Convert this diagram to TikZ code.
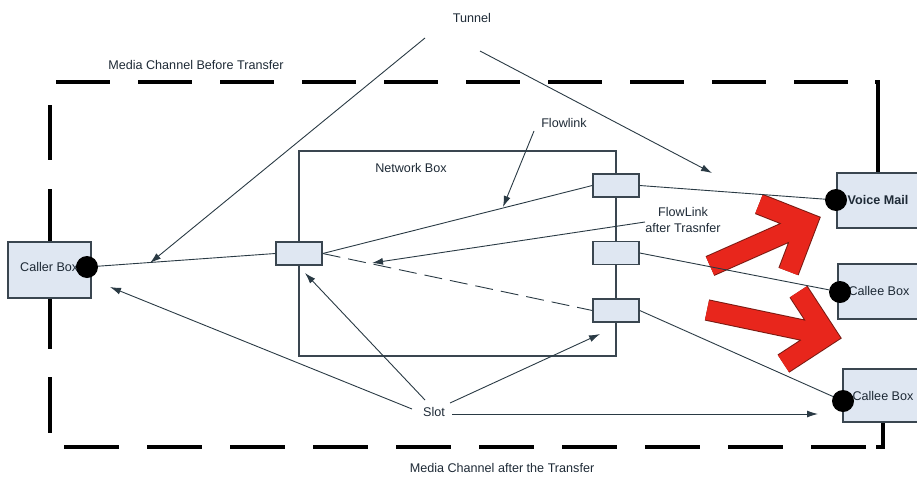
\documentclass[tikz,border=0pt]{standalone}
\usepackage{fontspec}
\setmainfont{Liberation Sans}
\usetikzlibrary{arrows.meta}
\definecolor{edge}{HTML}{3A4650}
\definecolor{boxfill}{HTML}{DFE7F2}
\definecolor{txt}{HTML}{1E2A36}
\definecolor{lnk}{HTML}{2A3A44}
\definecolor{redf}{HTML}{E8261C}
\definecolor{redo}{HTML}{7A1A12}
\begin{document}
\begin{tikzpicture}[x=1pt,y=-1pt,
  lbl/.style={font=\fontsize{12.6}{16}\selectfont, text=txt, inner sep=0pt},
  box/.style={draw=edge, fill=boxfill, line width=1.4pt, inner sep=0pt},
  slotbox/.style={box, minimum width=46pt, minimum height=23pt},
  dot/.style={circle, fill=black, minimum size=22pt, inner sep=0pt},
  lk/.style={draw=lnk, line width=0.9pt},
  ar/.style={lk, -{Latex[length=11pt,width=7pt]}},
  border/.style={draw=black, line width=3.4pt},
  bigarrow/.style={line width=#1, line join=miter}
]
\useasboundingbox (0,0) rectangle (917,479);

% dashed channel borders
\draw[border, dash pattern=on 54pt off 28pt] (56,82) -- (848,82);
\draw[border] (875,82) -- (878,82) -- (878,173);
\draw[border] (50,105) -- (50,160);
\draw[border] (50,189) -- (50,242);
\draw[border] (50,298) -- (50,349);
\draw[border] (50,377) -- (50,433);
\draw[border, dash pattern=on 55pt off 28pt] (64,447) -- (866,447);
\draw[border] (876,447) -- (883,447) -- (883,422);

% network box
\node[draw=edge, line width=1.2pt, minimum width=317pt, minimum height=205pt, inner sep=0pt] (net) at (457.5,253.5) {};
\node[lbl] (netlbl) at (411,168) {Network Box};

% end boxes
\node[box, minimum width=83pt, minimum height=56pt] (caller) at (49.5,270) {};
\node[box, minimum width=84pt, minimum height=55pt] (vm) at (879,200.5) {};
\node[box, minimum width=83pt, minimum height=55pt] (callee1) at (879.5,291.5) {};
\node[box, minimum width=78pt, minimum height=53pt] (callee2) at (882,395.5) {};
\node[lbl, anchor=west] (callerlbl) at (20,267) {Caller Box};
\node[lbl, font=\fontsize{12.6}{16}\selectfont\bfseries] (vmlbl) at (878,200) {Voice Mail};
\node[lbl] (c1lbl) at (879,291) {Callee Box};
\node[lbl] (c2lbl) at (883,396) {Callee Box};

% slots
\node[slotbox] (ls) at (299,253.5) {};
\node[slotbox] (s1) at (616,185.5) {};
\node[slotbox] (s2) at (616,253) {};
\node[slotbox] (s3) at (616,310.5) {};

% red transfer arrows
\foreach \c/\w in {redo/21.5pt, redf/19.5pt}{
  \draw[draw=\c, bigarrow=\w] (759,204) -- (807,223) -- (788.5,271.5) (710,266) -- (807,223);
  \draw[draw=\c, bigarrow=\w] (798.5,291.7) -- (826.9,335.2) -- (783.4,363.6) (707,310) -- (826.9,335.2);
}

% dots
\node[dot] (cdot) at (87,267) {};
\node[dot] (vmdot) at (836,200) {};
\node[dot] (c1dot) at (840,292) {};
\node[dot] (c2dot) at (843,401) {};

% flow links
\draw[lk] (cdot) -- (ls.west);
\draw[lk] (ls.east) -- (s1.west);
\draw[lk, dash pattern=on 18pt off 8pt] (ls.east) -- (s3.west);
\draw[lk] (s1.east) -- (vmdot);
\draw[lk] (s2.east) -- (c1dot);
\draw[lk] (s3.east) -- (c2dot);

% labels
\node[lbl] (tunnel) at (472,18) {Tunnel};
\node[lbl] (mcb) at (196,65) {Media Channel Before Transfer};
\node[lbl] (mca) at (502,468) {Media Channel after the Transfer};
\node[lbl] (flowlink) at (564,123) {Flowlink};
\node[lbl, align=center] (flat) at (683,220) {FlowLink\\after Trasnfer};
\node[lbl] (slot) at (434,412) {Slot};

% pointer arrows
\coordinate (ta) at (425,38);
\coordinate (tb) at (480,51);
\coordinate (taE) at (150,263);
\coordinate (tbE) at (712,173);
\draw[ar] (ta) -- (taE);
\draw[ar] (tb) -- (tbE);
\coordinate (fl) at (534,131);
\coordinate (flE) at (503,207);
\draw[ar] (fl) -- (flE);
\coordinate (fa) at (645,222);
\coordinate (faE) at (372,263);
\draw[ar] (fa) -- (faE);
\coordinate (sa) at (412,409);
\coordinate (saE) at (110,287);
\coordinate (sb) at (425,400);
\coordinate (sbE) at (305,273);
\coordinate (sc) at (450,403);
\coordinate (scE) at (600,334);
\coordinate (sd) at (452,414);
\coordinate (sdE) at (818,414);
\draw[ar] (sa) -- (saE);
\draw[ar] (sb) -- (sbE);
\draw[ar] (sc) -- (scE);
\draw[ar] (sd) -- (sdE);
\end{tikzpicture}
\end{document}
